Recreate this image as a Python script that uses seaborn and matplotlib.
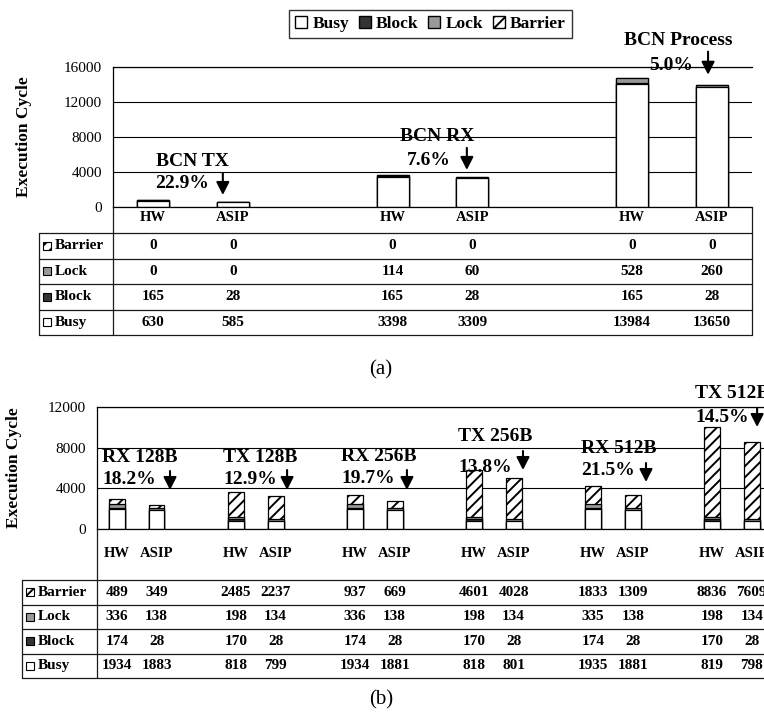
import matplotlib
matplotlib.use("Agg")
import matplotlib.pyplot as plt
import seaborn as sns
from matplotlib.lines import Line2D
from matplotlib.patches import Patch, Rectangle
from matplotlib.transforms import blended_transform_factory

sns.set_style("white")
plt.rcParams["font.family"] = ["Liberation Serif", "DejaVu Serif"]
plt.rcParams["hatch.linewidth"] = 1.4
plt.rcParams["hatch.color"] = "black"
for key in ("text.color", "axes.labelcolor", "xtick.color", "ytick.color"):
    plt.rcParams[key] = "black"

# ---------------- data ----------------
configs = ["HW", "ASIP"]
components = ["Barrier", "Lock", "Block", "Busy"]  # table order, top to bottom

a_groups = ["BCN TX", "BCN RX", "BCN Process"]
a_gain = ["22.9%", "7.6%", "5.0%"]
a_busy = [630, 585, 3398, 3309, 13984, 13650]
a_block = [165, 28, 165, 28, 165, 28]
a_lock = [0, 0, 114, 60, 528, 260]
a_barrier = [0, 0, 0, 0, 0, 0]
a_yticks = [0, 4000, 8000, 12000, 16000]

b_groups = ["RX 128B", "TX 128B", "RX 256B", "TX 256B", "RX 512B", "TX 512B"]
b_gain = ["18.2%", "12.9%", "19.7%", "13.8%", "21.5%", "14.5%"]
b_busy = [1934, 1883, 818, 799, 1934, 1881, 818, 801, 1935, 1881, 819, 798]
b_block = [174, 28, 170, 28, 174, 28, 170, 28, 174, 28, 170, 28]
b_lock = [336, 138, 198, 134, 336, 138, 198, 134, 335, 138, 198, 134]
b_barrier = [489, 349, 2485, 2237, 937, 669, 4601, 4028, 1833, 1309, 8836, 7609]
b_yticks = [0, 4000, 8000, 12000]

# ---------------- styling ----------------
STYLE = {
    "Busy": dict(color="white"),
    "Block": dict(color="#333333"),
    "Lock": dict(color="#999999"),
    "Barrier": dict(color="white", hatch="///"),
}

W, H = 764, 716
fig = plt.figure(figsize=(W / 100, H / 100), dpi=100)


def fx(px):
    return px / W


def fy(py):
    return 1 - py / H


def line(xs, ys, lw=0.9):
    fig.add_artist(Line2D([fx(v) for v in xs], [fy(v) for v in ys],
                          color="#1a1a1a", lw=lw))


def draw_panel(box, groups, gain, busy, block, lock, barrier, yticks,
               table, tick_pad, caption_y, notes, note_ha):
    left, top, right, bottom = box
    ax = fig.add_axes([fx(left), fy(bottom), (right - left) / W, (bottom - top) / H])

    n = len(groups)
    pos = [p + 6 * g for g in range(n) for p in (1, 3)]
    vals = {"Busy": busy, "Block": block, "Lock": lock, "Barrier": barrier}

    # cumulative stack heights, drawn from the tallest layer down
    stack = {}
    run = [0] * len(pos)
    for comp in ["Busy", "Block", "Lock", "Barrier"]:
        run = [r + v for r, v in zip(run, vals[comp])]
        stack[comp] = run
    for comp in ["Barrier", "Lock", "Block", "Busy"]:
        sns.barplot(x=pos, y=stack[comp], orient="x", native_scale=True,
                    width=0.4, saturation=1, errorbar=None,
                    edgecolor="black", linewidth=0.9, ax=ax, **STYLE[comp])

    ax.set_xlim(0, 6 * n - 2)
    ax.set_ylim(yticks[0], yticks[-1])
    ax.set_yticks(yticks)
    ax.set_yticklabels([str(t) for t in yticks], fontsize=11)
    ax.set_xticks(pos)
    ax.set_xticklabels(configs * n, fontsize=10.5, fontweight="bold")
    ax.tick_params(axis="both", length=0)
    ax.tick_params(axis="y", pad=8)
    ax.tick_params(axis="x", pad=tick_pad)
    ax.set_axisbelow(True)
    ax.grid(axis="y", color="black", linewidth=0.8)
    ax.grid(axis="x", visible=False)
    ax.spines["right"].set_visible(False)
    for side in ("left", "bottom", "top"):
        ax.spines[side].set_color("black")
        ax.spines[side].set_linewidth(0.9)
    ax.set_xlabel("")
    ax.set_ylabel("Execution Cycle", fontsize=12.5, fontweight="bold")
    ax.yaxis.set_label_coords(table["ylabel_x"], 0.5)

    # group annotations with arrows
    for g, (title_xy, pct_xy, arr) in enumerate(notes):
        ax.text(*title_xy, groups[g], ha=note_ha, va="center", fontsize=14,
                fontweight="bold", clip_on=False)
        ax.text(*pct_xy, gain[g], ha=note_ha, va="center", fontsize=14,
                fontweight="bold", clip_on=False)
        ax.annotate("", xy=(arr[0], arr[2]), xytext=(arr[0], arr[1]),
                    annotation_clip=False,
                    arrowprops=dict(arrowstyle="-|>,head_length=0.55,head_width=0.28",
                                    color="black", lw=1.5, shrinkA=0, shrinkB=0,
                                    mutation_scale=14))

    # data table under the axis
    t_top, t_bot, t_left = table["top"], table["bottom"], table["left"]
    row_h = (t_bot - t_top) / len(components)
    for i in range(len(components) + 1):
        y = t_top + i * row_h
        line([t_left, right], [y, y])
    line([t_left, t_left], [t_top, t_bot])
    line([left, left], [bottom, t_bot])
    line([right, right], [bottom, t_bot])

    tr = blended_transform_factory(ax.transData, fig.transFigure)
    for i, comp in enumerate(components):
        yc = t_top + (i + 0.5) * row_h
        sq = 8
        fig.add_artist(Rectangle((fx(t_left + 4), fy(yc + sq / 2)), sq / W, sq / H,
                                 transform=fig.transFigure, edgecolor="black",
                                 linewidth=0.8, facecolor=STYLE[comp]["color"],
                                 hatch=STYLE[comp].get("hatch")))
        fig.text(fx(t_left + 16), fy(yc), comp, ha="left", va="center",
                 fontsize=11, fontweight="bold")
        for x, v in zip(pos, vals[comp]):
            ax.text(x, fy(yc), str(v), transform=tr, ha="center", va="center",
                    fontsize=11, fontweight="bold", clip_on=False)

    fig.text(fx(381), fy(caption_y), table["caption"], ha="center", va="center",
             fontsize=15)
    return ax


# annotation layout: (title xy, gain xy, (arrow x, tail y, tip y)) in data units
a_notes = [
    ((1.98, 5143), (1.73, 2629), (2.75, 3886, 1371)),
    ((8.11, 8000), (7.91, 5257), (8.86, 6743, 4229)),
    ((14.15, 18971), (13.97, 16114), (14.9, 17714, 15086)),
]
b_notes = [
    ((0.25, 6984), (0.25, 4820), (3.68, 5705, 3836)),
    ((6.35, 6984), (6.35, 4820), (9.58, 5803, 3836)),
    ((12.3, 7180), (12.3, 5016), (15.62, 5803, 3836)),
    ((18.2, 9147), (18.2, 6000), (21.47, 7672, 5803)),
    ((24.4, 7869), (24.4, 5705), (27.67, 6492, 4623)),
    ((30.14, 13377), (30.14, 11016), (33.27, 11902, 10033)),
]

draw_panel((113, 66.7, 752, 207), a_groups, a_gain, a_busy, a_block, a_lock,
           a_barrier, a_yticks,
           dict(top=233, bottom=335, left=39, caption="(a)", ylabel_x=-0.127),
           tick_pad=3, caption_y=370, notes=a_notes, note_ha="center")

draw_panel((97, 407, 771.6, 529), b_groups, b_gain, b_busy, b_block, b_lock,
           b_barrier, b_yticks,
           dict(top=580, bottom=678, left=22, caption="(b)", ylabel_x=-0.111),
           tick_pad=13, caption_y=700, notes=b_notes, note_ha="left")

handles = [Patch(facecolor=STYLE[c]["color"], edgecolor="black",
                 hatch=STYLE[c].get("hatch"), label=c)
           for c in ["Busy", "Block", "Lock", "Barrier"]]
leg = fig.legend(handles=handles, loc="center", bbox_to_anchor=(fx(430.5), fy(24)),
                 ncol=4, frameon=True, fancybox=False, edgecolor="black",
                 handlelength=0.7, handleheight=0.7, handletextpad=0.3,
                 columnspacing=0.55, borderpad=0.35,
                 prop=dict(weight="bold", size=12.5))
leg.get_frame().set_linewidth(1.0)

fig.savefig("out.png", dpi=100)
